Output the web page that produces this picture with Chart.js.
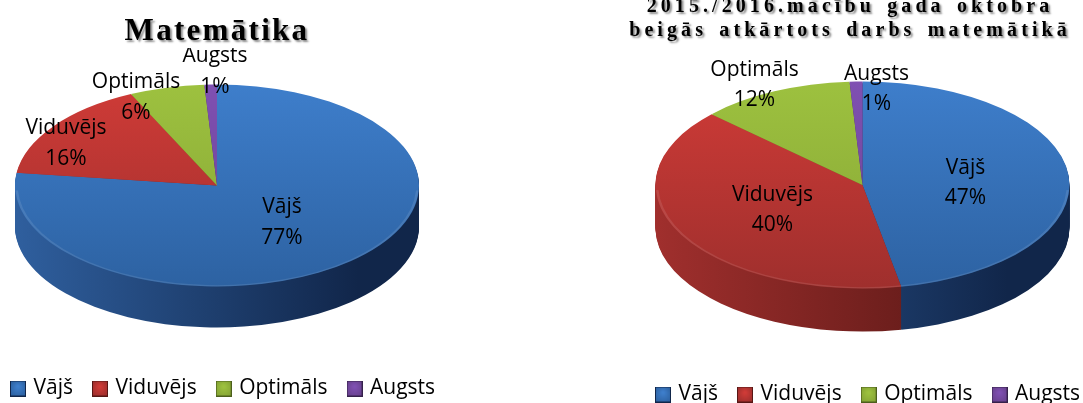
<!DOCTYPE html>
<html><head><meta charset="utf-8">
<style>
html,body{margin:0;padding:0;background:#fff;width:1083px;height:403px;overflow:hidden}
canvas{position:absolute;top:0}
#a{left:-9px}
#b{left:626px}
</style>
<script src="https://cdn.jsdelivr.net/npm/chart.js@4/dist/chart.umd.min.js"></script>
</head><body>
<canvas id="a" width="452" height="403"></canvas>
<canvas id="b" width="463" height="403"></canvas>
<script>
const categories = ['Vājš', 'Viduvējs', 'Optimāls', 'Augsts'];
const mathValues = [77, 16, 6, 1];
const repeatValues = [47, 40, 12, 1];
const mathTitle = ['Matemātika'];
const repeatTitle = ['2015./2016.mācību gada oktobra', 'beigās atkārtots darbs matemātikā'];

const faceTop = ['#3e7ecb', '#cf3b37', '#9dc13f', '#7f50b2'];
const faceBottom = ['#2d62a2', '#9f2f2d', '#86a535', '#69428f'];
const sideLeft = ['#2f5f9e', '#a02f2d', '#7c9a30', '#5c3a80'];
const sideRight = ['#11264a', '#561715', '#4c5f1c', '#35214b'];

const labelFont = '21px "Open Sans"';

function swatch(i) {
  const c = document.createElement('canvas');
  c.width = c.height = 16;
  const g = c.getContext('2d');
  g.fillStyle = sideRight[i];
  g.fillRect(0, 0, 16, 16);
  const r = g.createRadialGradient(8, 6, 1, 8, 8, 9);
  r.addColorStop(0, faceTop[i]);
  r.addColorStop(1, faceBottom[i]);
  g.fillStyle = r;
  g.fillRect(1, 1, 14, 14);
  return c;
}

const pie3d = {
  id: 'pie3d',
  beforeDatasetsDraw(chart, args, o) {
    const ctx = chart.ctx;
    const els = chart.getDatasetMeta(0).data;
    const { x: cx, y: cy, outerRadius: r } = els[0];
    const squash = (dy) => {
      ctx.translate(cx, cy + dy);
      ctx.scale(1, o.tilt);
      ctx.translate(-cx, -cy);
    };
    els.forEach((el, i) => {
      el.$base = el.options;
      const g = ctx.createLinearGradient(cx - r, 0, cx + r, 0);
      g.addColorStop(0, sideLeft[i]);
      g.addColorStop(0.85, sideRight[i]);
      g.addColorStop(1, sideRight[i]);
      el.options = Object.assign({}, el.$base, { backgroundColor: g });
    });
    for (let dy = o.depth; dy >= 1; dy -= 1) {
      ctx.save();
      squash(dy);
      els.forEach((el) => el.draw(ctx));
      ctx.restore();
    }
    ctx.save();
    squash(0);
    els.forEach((el, i) => {
      const g = ctx.createLinearGradient(0, cy - r, 0, cy + r);
      g.addColorStop(0, faceTop[i]);
      g.addColorStop(1, faceBottom[i]);
      el.options = Object.assign({}, el.$base, { backgroundColor: g });
    });
  },
  afterDatasetsDraw(chart, args, o) {
    const ctx = chart.ctx;
    const els = chart.getDatasetMeta(0).data;
    const { x: cx, y: cy, outerRadius: r } = els[0];
    // bevel highlight along the front rim
    ctx.beginPath();
    ctx.arc(cx, cy, r - 1.5, 0.05, Math.PI - 0.05);
    ctx.lineWidth = 2.5;
    ctx.strokeStyle = 'rgba(255,255,255,0.10)';
    ctx.stroke();
    ctx.restore();
    els.forEach((el) => { el.options = el.$base; });
    const values = chart.data.datasets[0].data;
    ctx.save();
    ctx.font = labelFont;
    ctx.fillStyle = '#000';
    ctx.textAlign = 'center';
    ctx.textBaseline = 'middle';
    els.forEach((el, i) => {
      const [dx, dy] = o.labelOffsets[i];
      ctx.fillText(chart.data.labels[i], cx + dx, cy + dy);
      ctx.fillText(values[i] + '%', cx + dx, cy + dy + 30.5);
    });
    ctx.restore();
    // heading, on its own white band
    ctx.save();
    ctx.fillStyle = '#fff';
    ctx.fillRect(0, 0, chart.width, o.titleBand);
    ctx.font = o.titleFont;
    ctx.letterSpacing = o.titleSpacing;
    ctx.wordSpacing = o.titleWordSpacing;
    ctx.textAlign = 'center';
    ctx.textBaseline = 'alphabetic';
    ctx.fillStyle = '#000';
    ctx.shadowColor = 'rgba(0,0,0,0.45)';
    ctx.shadowOffsetX = 2;
    ctx.shadowOffsetY = 2;
    ctx.shadowBlur = 2;
    o.title.forEach((t, i) => ctx.fillText(t, o.titleX, o.titleY + i * o.titleLead));
    ctx.restore();
  }
};

function makeChart(id, values, radius, padding, cfg) {
  return new Chart(document.getElementById(id), {
    type: 'pie',
    plugins: [pie3d],
    data: {
      labels: categories,
      datasets: [{ data: values, backgroundColor: faceTop, borderWidth: 0, clip: false, radius }]
    },
    options: {
      responsive: false,
      animation: false,
      layout: { padding },
      plugins: {
        title: { display: false },
        tooltip: { enabled: false },
        legend: {
          position: 'bottom',
          align: 'start',
          labels: {
            font: { family: 'Open Sans', size: 21 },
            color: '#000',
            padding: 22,
            usePointStyle: true,
            pointStyleWidth: 10,
            generateLabels: (c) => categories.map((t, i) => ({
              text: t, pointStyle: swatch(i), fillStyle: faceTop[i], strokeStyle: faceTop[i], lineWidth: 0, index: i, datasetIndex: 0, hidden: false
            }))
          }
        },
        pie3d: cfg
      }
    }
  });
}

makeChart('a', mathValues, 202, { top: 15, bottom: -6, left: 0, right: -60 }, {
  tilt: 0.5, depth: 41,
  title: mathTitle, titleFont: 'bold 31px "Liberation Serif"', titleSpacing: '2.3px', titleWordSpacing: '0px',
  titleX: 226, titleY: 40, titleLead: 0, titleBand: 48,
  labelOffsets: [[65, 22], [-151, -57], [-81, -103], [-2, -129]]
});
makeChart('b', repeatValues, 207, { top: 8, bottom: -12, left: 10, right: -60 }, {
  tilt: 0.5, depth: 43,
  title: repeatTitle, titleFont: 'bold 20px "Liberation Serif"', titleSpacing: '4.08px', titleWordSpacing: '3.25px',
  titleX: 224, titleY: 12, titleLead: 24, titleBand: 0,
  labelOffsets: [[103, -17], [-90, 10], [-108, -115], [14, -111]]
});
</script>
</body></html>
